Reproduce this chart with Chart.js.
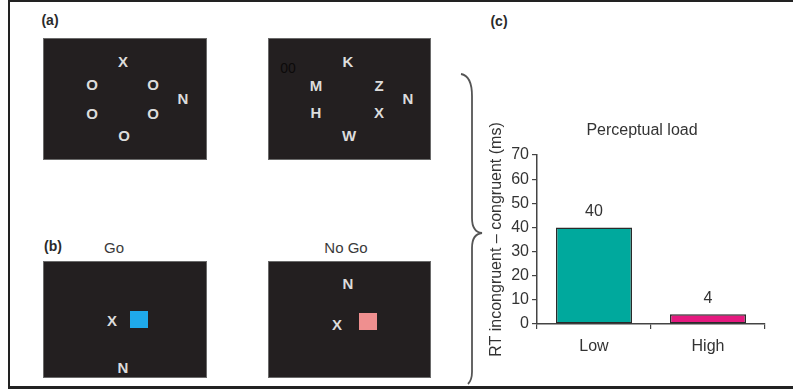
<!DOCTYPE html>
<html>
<head>
<meta charset="utf-8">
<script src="https://cdn.jsdelivr.net/npm/chart.js@4/dist/chart.umd.min.js"></script>
<style>
html,body{margin:0;padding:0;width:793px;height:390px;overflow:hidden;background:#fff;font-family:"Liberation Sans",Arial,sans-serif;}
#frame{position:absolute;left:8px;top:0;width:820px;border-left:2px solid #222;border-top:2px solid #222;border-bottom:3px solid #222;box-sizing:border-box;height:389px;}
.panel{position:absolute;background:#231f20;border:1px solid #6a6a6a;box-sizing:border-box;}
.t{position:absolute;transform:translate(-50%,-50%);line-height:1;white-space:nowrap;}
.L{font-size:15px;font-weight:bold;color:#dcdcdc;}
.lab{font-size:14px;font-weight:bold;color:#2a2a2a;}
.cap{font-size:15px;color:#3a3a3a;}
.sq{position:absolute;}
#c{position:absolute;left:483px;top:100px;}
svg{position:absolute;left:0;top:0;}
</style>
</head>
<body>
<div id="frame"></div>

<div class="t lab" style="left:50px;top:20px">(a)</div>
<div class="panel" style="left:43px;top:38px;width:164px;height:122px"></div>
<div class="t L" style="left:123px;top:61px">X</div>
<div class="t L" style="left:92px;top:84px">O</div>
<div class="t L" style="left:153px;top:84px">O</div>
<div class="t L" style="left:92px;top:113px">O</div>
<div class="t L" style="left:153px;top:113px">O</div>
<div class="t L" style="left:124px;top:135px">O</div>
<div class="t L" style="left:183px;top:98px">N</div>

<div class="panel" style="left:268px;top:38px;width:163px;height:122px"></div>
<div class="t" style="left:288px;top:68px;font-size:14px;color:#0c0a0a">00</div>
<div class="t L" style="left:348px;top:61px">K</div>
<div class="t L" style="left:316px;top:85px">M</div>
<div class="t L" style="left:379px;top:85px">Z</div>
<div class="t L" style="left:408px;top:98px">N</div>
<div class="t L" style="left:316px;top:112px">H</div>
<div class="t L" style="left:379px;top:112px">X</div>
<div class="t L" style="left:349px;top:135px">W</div>

<div class="t lab" style="left:53px;top:246px">(b)</div>
<div class="t cap" style="left:114px;top:247px">Go</div>
<div class="panel" style="left:43px;top:261px;width:164px;height:117px"></div>
<div class="t L" style="left:112px;top:320px">X</div>
<div class="sq" style="left:130px;top:311px;width:18px;height:17px;background:#1fa9ea"></div>
<div class="t L" style="left:123px;top:367px">N</div>

<div class="t cap" style="left:346px;top:247px">No Go</div>
<div class="panel" style="left:268px;top:261px;width:163px;height:117px"></div>
<div class="t L" style="left:348px;top:283px">N</div>
<div class="t L" style="left:337px;top:324px">X</div>
<div class="sq" style="left:359px;top:313px;width:18px;height:17px;background:#ef8f8f"></div>

<svg width="793" height="390">
<path d="M461,74 Q472,76 472,96 L472,218 Q472,232 482,233 Q472,234 472,248 L472,372 Q472,380 468,384" fill="none" stroke="#555" stroke-width="1.8"/>
</svg>

<div class="t lab" style="left:499px;top:21px">(c)</div>

<canvas id="c" width="318" height="286"></canvas>

<script>
const categories = ['Low', 'High'];
const values = [40, 4];
const barColors = ['#00a99d', '#e5197f'];
const yMin = 0, yMax = 70, yStep = 10;
const chartTitle = 'Perceptual load';
const yTitle = 'RT incongruent \u2013 congruent (ms)';

const FONT = '"Liberation Sans", Arial, sans-serif';
const TXT = '#333';
const AX = '#444';

const valueLabels = {
  id: 'valueLabels',
  afterDatasetsDraw(chart) {
    const ctx = chart.ctx;
    const meta = chart.getDatasetMeta(0);
    ctx.save();
    ctx.font = '16px ' + FONT;
    ctx.fillStyle = TXT;
    ctx.textAlign = 'center';
    ctx.textBaseline = 'middle';
    meta.data.forEach((bar, i) => {
      ctx.fillText(String(values[i]), bar.x, bar.y - 15.5);
    });
    ctx.restore();
  }
};

new Chart(document.getElementById('c'), {
  type: 'bar',
  data: {
    labels: categories,
    datasets: [{
      data: values,
      backgroundColor: barColors,
      borderColor: '#2a2a2a',
      borderWidth: 1.5,
      borderSkipped: false,
      barPercentage: 0.667,
      categoryPercentage: 1
    }]
  },
  options: {
    responsive: false,
    animation: false,
    layout: { padding: 0 },
    plugins: {
      legend: { display: false },
      tooltip: { enabled: false },
      title: {
        display: true,
        text: chartTitle,
        color: TXT,
        font: { family: FONT, size: 16, weight: 'normal' },
        padding: { top: 21, bottom: 14.8 }
      }
    },
    scales: {
      x: {
        grid: { display: true, drawOnChartArea: false, tickLength: 5, color: AX, lineWidth: 1.2, offset: true },
        border: { display: true, color: AX, width: 1.5 },
        ticks: { color: TXT, font: { family: FONT, size: 16 }, padding: 8 },
        afterFit(s) { s.height = 62; }
      },
      y: {
        min: yMin, max: yMax,
        ticks: { stepSize: yStep, color: TXT, font: { family: FONT, size: 16 }, padding: 3 },
        grid: { display: true, drawOnChartArea: false, tickLength: 5, color: AX, lineWidth: 1.2 },
        border: { display: true, color: AX, width: 1.5 },
        title: { display: true, text: yTitle, color: TXT, font: { family: FONT, size: 16 } },
        afterFit(s) { s.width = 54; }
      },
      yPad: {
        position: 'right',
        display: true,
        grid: { display: false },
        border: { display: false },
        ticks: { display: false },
        afterFit(s) { s.width = 36; }
      }
    }
  },
  plugins: [valueLabels]
});
</script>
</body>
</html>
